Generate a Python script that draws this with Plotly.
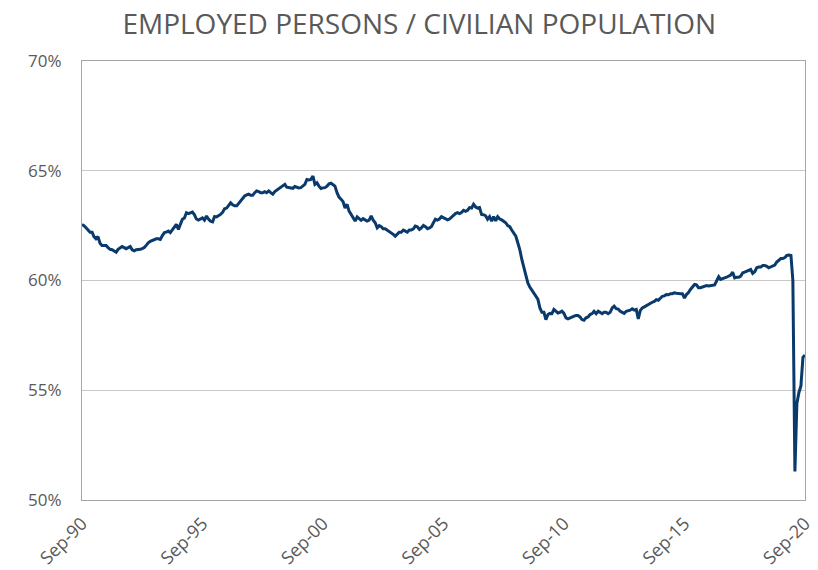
import pandas as pd
import plotly.graph_objects as go

# Monthly employment / population ratio (%), Sep-1990 .. Sep-2020
v1990 = [62.55, 62.5, 62.4, 62.3]  # Sep-Dec
v1991 = [62.2, 62.2, 62.0, 61.9, 62.0, 61.7, 61.6, 61.6, 61.6, 61.5, 61.42, 61.4]
v1992 = [61.35, 61.29, 61.42, 61.5, 61.55, 61.5, 61.45, 61.5, 61.55, 61.4, 61.35, 61.4]
v1993 = [61.4, 61.42, 61.45, 61.5, 61.6, 61.72, 61.78, 61.83, 61.85, 61.9, 61.9, 61.87]
v1994 = [62.05, 62.18, 62.2, 62.25, 62.18, 62.3, 62.45, 62.56, 62.33, 62.6, 62.79, 62.85]
v1995 = [63.09, 63.05, 63.1, 63.12, 63.0, 62.8, 62.75, 62.8, 62.85, 62.75, 62.94, 62.8]
v1996 = [62.7, 62.67, 62.91, 62.9, 62.95, 63.01, 63.1, 63.27, 63.3, 63.4, 63.54, 63.45]
v1997 = [63.4, 63.4, 63.5, 63.6, 63.73, 63.85, 63.9, 63.93, 63.88, 63.88, 64.0, 64.08]
v1998 = [64.05, 64.0, 64.0, 64.05, 64.0, 64.08, 64.0, 63.93, 64.05, 64.12, 64.2, 64.23]
v1999 = [64.3, 64.38, 64.25, 64.23, 64.19, 64.2, 64.28, 64.25, 64.22, 64.23, 64.3, 64.38]
v2000 = [64.6, 64.58, 64.6, 64.76, 64.38, 64.45, 64.3, 64.19, 64.22, 64.23, 64.3, 64.4]
v2001 = [64.43, 64.35, 64.3, 64.0, 63.8, 63.7, 63.6, 63.3, 63.47, 63.16, 63.01, 62.9]
v2002 = [62.71, 62.9, 62.8, 62.74, 62.82, 62.75, 62.71, 62.75, 62.94, 62.75, 62.63, 62.4]
v2003 = [62.5, 62.45, 62.36, 62.36, 62.3, 62.25, 62.15, 62.1, 62.02, 62.1, 62.2, 62.2]
v2004 = [62.3, 62.25, 62.2, 62.3, 62.3, 62.35, 62.48, 62.45, 62.33, 62.4, 62.51, 62.45]
v2005 = [62.36, 62.4, 62.45, 62.63, 62.79, 62.75, 62.8, 62.91, 62.85, 62.79, 62.76, 62.8]
v2006 = [62.9, 63.01, 63.05, 63.09, 63.05, 63.1, 63.2, 63.15, 63.2, 63.32, 63.3, 63.47]
v2007 = [63.35, 63.3, 63.32, 63.01, 63.0, 62.95, 62.79, 62.91, 62.71, 62.91, 62.72, 62.91]
v2008 = [62.8, 62.76, 62.7, 62.63, 62.5, 62.45, 62.3, 62.15, 62.02, 61.72, 61.4, 60.96]
v2009 = [60.6, 60.3, 59.9, 59.7, 59.55, 59.44, 59.3, 59.15, 58.75, 58.55, 58.55, 58.22]
v2010 = [58.45, 58.5, 58.49, 58.68, 58.6, 58.52, 58.55, 58.6, 58.5, 58.3, 58.25, 58.3]
v2011 = [58.34, 58.38, 58.4, 58.4, 58.34, 58.22, 58.19, 58.3, 58.34, 58.45, 58.49, 58.6]
v2012 = [58.49, 58.6, 58.55, 58.49, 58.55, 58.55, 58.49, 58.55, 58.75, 58.83, 58.72, 58.7]
v2013 = [58.6, 58.55, 58.5, 58.6, 58.62, 58.65, 58.71, 58.65, 58.68, 58.25, 58.64, 58.75]
v2014 = [58.8, 58.86, 58.9, 58.98, 59.01, 59.05, 59.13, 59.1, 59.2, 59.28, 59.3, 59.36]
v2015 = [59.35, 59.4, 59.4, 59.44, 59.42, 59.4, 59.4, 59.4, 59.2, 59.36, 59.45, 59.59]
v2016 = [59.7, 59.82, 59.8, 59.67, 59.67, 59.7, 59.75, 59.77, 59.75, 59.75, 59.78, 59.8]
v2017 = [60.0, 60.17, 60.05, 60.1, 60.12, 60.15, 60.2, 60.25, 60.38, 60.12, 60.15, 60.15]
v2018 = [60.2, 60.35, 60.38, 60.43, 60.45, 60.5, 60.32, 60.4, 60.58, 60.62, 60.62, 60.68]
v2019 = [60.68, 60.65, 60.58, 60.62, 60.66, 60.7, 60.84, 60.9, 61.0, 61.0, 61.05, 61.14]
v2020 = [61.16, 61.14, 60.0, 51.3, 54.4, 54.9, 55.2, 56.5, 56.6]  # Jan-Sep

yearly = [v1990, v1991, v1992, v1993, v1994, v1995, v1996, v1997, v1998, v1999,
          v2000, v2001, v2002, v2003, v2004, v2005, v2006, v2007, v2008, v2009,
          v2010, v2011, v2012, v2013, v2014, v2015, v2016, v2017, v2018, v2019, v2020]
values = [v / 100 for yr in yearly for v in yr]
dates = pd.date_range("1990-09-01", periods=len(values), freq="MS")

tick_dates = pd.date_range("1990-09-01", "2020-09-01", freq="60MS")
tick_labels = ["Sep-90", "Sep-95", "Sep-00", "Sep-05", "Sep-10", "Sep-15", "Sep-20"]
y_ticks = [0.50, 0.55, 0.60, 0.65, 0.70]

GRAY = "#595959"
FONT = "Open Sans, Carlito, Calibri, sans-serif"

fig = go.Figure()
fig.add_trace(go.Scatter(x=dates, y=values, mode="lines",
                         line=dict(color="#0a3a6b", width=3), hoverinfo="x+y"))

fig.update_layout(
    width=818, height=570,
    paper_bgcolor="white", plot_bgcolor="white",
    margin=dict(l=82, r=13, t=61, b=70),
    showlegend=False,
    title=dict(text="EMPLOYED PERSONS / CIVILIAN POPULATION",
               x=0.5125, xanchor="center", y=0.958, yanchor="middle",
               font=dict(family=FONT, size=28, color=GRAY)),
    font=dict(family=FONT, color=GRAY),
)
fig.update_xaxes(
    type="date", range=[tick_dates[0], tick_dates[-1]], automargin=False,
    tickmode="array", tickvals=list(tick_dates), ticktext=tick_labels,
    tickangle=-45, tickfont=dict(size=18, color=GRAY, family=FONT),
    showgrid=False, showline=True, linecolor="#a6a6a6", linewidth=1, mirror=True,
    ticks="outside", ticklen=5, tickcolor="rgba(0,0,0,0)", zeroline=False,
)
fig.update_yaxes(
    range=[0.50, 0.70], tickmode="array", tickvals=y_ticks, tickformat=".0%",
    automargin=False,
    tickfont=dict(size=17, color=GRAY, family=FONT),
    showgrid=True, gridcolor="#c8c8c8", gridwidth=1,
    showline=True, linecolor="#a6a6a6", linewidth=1, mirror=True,
    ticks="outside", ticklen=16, tickcolor="rgba(0,0,0,0)", zeroline=False,
)

fig.write_html("out.html",
               config={"displayModeBar": False},
               post_script="document.body.style.margin='0px';"
                           "document.body.style.overflow='hidden';")
